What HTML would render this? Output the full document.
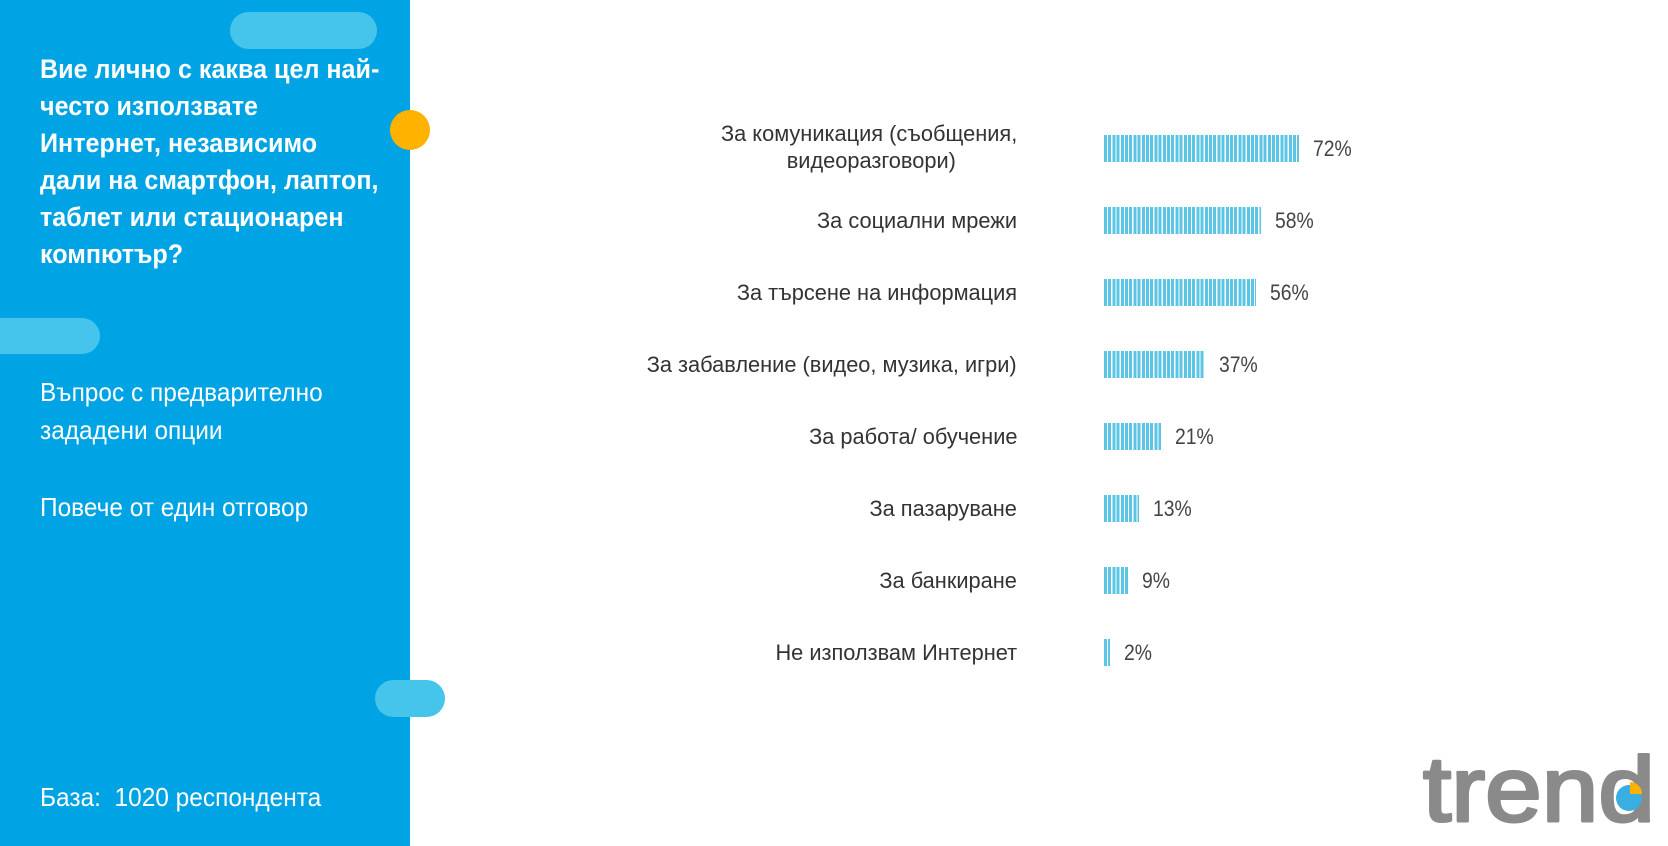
<!DOCTYPE html>
<html><head><meta charset="utf-8"><style>
body{margin:0;width:1668px;height:846px;background:#fff;position:relative;overflow:hidden;font-family:"Liberation Sans","DejaVu Sans",sans-serif}
.panel{position:absolute;left:0;top:0;width:410px;height:846px;background:#00a3e3}
.pill{position:absolute;background:#45c4ec;border-radius:20px}
.t{position:absolute;white-space:nowrap;transform-origin:left center}
.title{color:#fff;font-weight:bold;font-size:27px;transform:scaleX(0.93)}
.sub{color:#fff;font-size:26px;transform:scaleX(0.94)}
.lab{position:absolute;right:651px;white-space:nowrap;color:#333;font-size:22px;transform:scaleX(0.99);transform-origin:right center;text-align:right;line-height:27px}
.bar{position:absolute;left:1104px;height:27px;background:repeating-linear-gradient(90deg,#5bc5e6 0,#5bc5e6 3px,#fff 3px,#fff 4.2px)}
.pct{position:absolute;color:#444;font-size:22px;transform:scaleX(0.88);transform-origin:left center;line-height:27px}
</style></head><body>
<div class="panel"></div>
<div class="pill" style="left:230px;top:12px;width:147px;height:37px"></div>
<div class="pill" style="left:-20px;top:318px;width:120px;height:36px;border-radius:18px"></div>
<div class="pill" style="left:375px;top:680px;width:70px;height:37px;border-radius:19px"></div>
<div style="position:absolute;left:390px;top:110px;width:40px;height:40px;border-radius:50%;background:#ffb300"></div>
<div class="t title" style="left:40px;top:54px">Вие лично с каква цел най-</div>
<div class="t title" style="left:40px;top:91px">често използвате</div>
<div class="t title" style="left:40px;top:128px">Интернет, независимо</div>
<div class="t title" style="left:40px;top:165px">дали на смартфон, лаптоп,</div>
<div class="t title" style="left:40px;top:202px">таблет или стационарен</div>
<div class="t title" style="left:40px;top:239px">компютър?</div>
<div class="t sub" style="left:40px;top:377px">Въпрос с предварително</div>
<div class="t sub" style="left:40px;top:415px">зададени опции</div>
<div class="t sub" style="left:40px;top:492px">Повече от един отговор</div>
<div class="t sub" style="left:40px;top:782px">База:&nbsp; 1020 респондента</div>

<div class="lab" style="top:120px">За комуникация (съобщения,<br><span style="margin-right:62px">видеоразговори)</span></div>
<div class="bar" style="top:135px;width:195px"></div><div class="pct" style="left:1313px;top:135px">72%</div>
<div class="lab" style="top:207px">За социални мрежи</div>
<div class="bar" style="top:207px;width:157px"></div><div class="pct" style="left:1275px;top:207px">58%</div>
<div class="lab" style="top:279px">За търсене на информация</div>
<div class="bar" style="top:279px;width:152px"></div><div class="pct" style="left:1270px;top:279px">56%</div>
<div class="lab" style="top:351px">За забавление (видео, музика, игри)</div>
<div class="bar" style="top:351px;width:101px"></div><div class="pct" style="left:1219px;top:351px">37%</div>
<div class="lab" style="top:423px">За работа/ обучение</div>
<div class="bar" style="top:423px;width:57px"></div><div class="pct" style="left:1175px;top:423px">21%</div>
<div class="lab" style="top:495px">За пазаруване</div>
<div class="bar" style="top:495px;width:35px"></div><div class="pct" style="left:1153px;top:495px">13%</div>
<div class="lab" style="top:567px">За банкиране</div>
<div class="bar" style="top:567px;width:24px"></div><div class="pct" style="left:1142px;top:567px">9%</div>
<div class="lab" style="top:639px">Не използвам Интернет</div>
<div class="bar" style="top:639px;width:6px"></div><div class="pct" style="left:1124px;top:639px">2%</div>

<svg style="position:absolute;left:1410px;top:750px" width="258" height="96">
<text x="13" y="71" font-family="Liberation Sans, sans-serif" font-size="92" fill="#8a8a8a" stroke="#8a8a8a" stroke-width="3" stroke-linejoin="round" textLength="232" lengthAdjust="spacingAndGlyphs">trend</text>
<circle cx="219" cy="48" r="13" fill="#3aaee0"/>
<path d="M220 44 L220 32 A12 12 0 0 1 232 44 Z" fill="#ffb300"/>
</svg>
</body></html>
